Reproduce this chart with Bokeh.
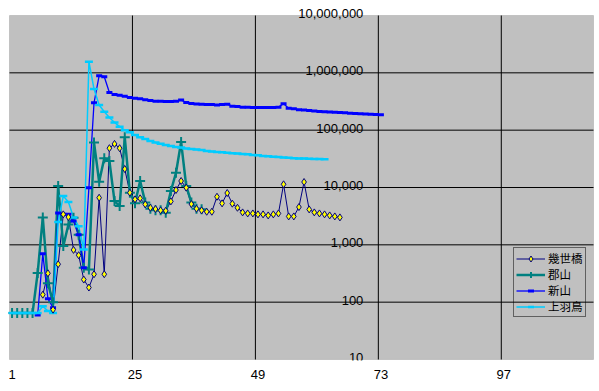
from bokeh.plotting import figure
from bokeh.models import FixedTicker, Legend, LegendItem, Label, Range1d, BoxAnnotation
from bokeh.embed import file_html
from bokeh.resources import INLINE

# ---- data (category index -> value) ----
series_names = ["幾世橋", "郡山", "新山", "上羽鳥"]

kiyohashi_start = 7
kiyohashi = [135, 319, 74, 459, 3400, 3050, 816, 659, 248, 180, 307, 6630, 307,
             48500, 57600, 48500, 21000, 8110, 6210, 6470, 5080, 4430, 4210, 3990, 3920,
             5730, 9040, 12980, 9930, 5140, 4260,
             3990, 3780, 3780, 6900, 5290, 8010, 5220, 4430, 3680, 3530, 3530, 3400, 3400,
             3260, 3400, 3530, 11370, 3130, 3130, 4560, 12470, 4150, 3680, 3530, 3400,
             3260, 3130, 3010]

koriyama_start = 1
koriyama = [65, 65, 65, 65, 65, 324, 3000, 213, 100, 10600, 950, 2270, 2960, 1500, 400,
            370, 60800, 12600, 32400, 29000, 5800, 4750, 75000, 8100, 5300, 13000, 5500,
            4250, 4000, 4000, 3630, 8690, 18100, 62000, 10600, 5500, 4250, 4170]

niiyama_start = 6
niiyama = [60, 700, 115, 80, 3600, 3400, 3400, 2600, 1500, 400, 9900, 300000, 891000,
           857000,
           455000, 420000, 405000, 390000, 370000, 360000, 352000, 340000, 330000, 320000,
           318000, 316000, 315000, 318000, 335000, 305000, 292000, 285000, 283000, 281000,
           279000, 276000, 280000, 284000, 262000, 258000, 252000, 250000, 249000, 249000,
           249000, 248000, 249000, 252000, 290000, 242000, 236000, 228000, 225000, 220000,
           215000, 212000, 210000, 207000, 205000, 203000, 201000, 197000, 195000, 193000,
           191000, 189000, 187000, 185000]

kamihatori_start = 1
kamihatori = [65, 65, 65, 65, 65, 65, 85, 70, 65, 2500, 7100, 5600, 3000, 2100, 830,
              1567000, 521000, 274000, 209000, 166000, 136000, 115000, 100000, 92000, 82000,
              75000, 70000, 65000, 61000, 58000, 55000, 53000, 51000, 49700, 48000, 47000,
              46000, 45000, 43500, 42500, 41500, 41000, 40500, 39500, 39000, 38500, 38000,
              37000, 36500, 35600, 35000, 34500, 34100, 33500, 33000, 32500, 32200, 32000,
              31800, 31500, 31500, 31000]

n_categories = 114
x_tick_labels = [1, 25, 49, 73, 97]
y_tick_values = [10, 100, 1000, 10000, 100000, 1000000, 10000000]
y_tick_labels = ["10", "100", "1,000", "10,000", "100,000", "1,000,000", "10,000,000"]
y_axis_cross = 73

FONT = "Liberation Sans"

x_lo, x_hi = 0.5, n_categories + 0.5
y_lo, y_hi = y_tick_values[0], y_tick_values[-1]
# small padding around the plot area so its border and the top label are not clipped
cat_px = 5.123
dec_px = 57.33
x_pad_l, x_pad_r = 1 / cat_px, 1 / cat_px
y_pad_lo, y_pad_hi = 10 ** (-1 / dec_px), 10 ** (8 / dec_px)

p = figure(width=599, height=391, output_backend="svg", toolbar_location=None,
           x_range=Range1d(x_lo - x_pad_l, x_hi + x_pad_r),
           y_range=Range1d(y_lo * y_pad_lo, y_hi * y_pad_hi),
           y_axis_type="log", y_axis_location=None,
           min_border_left=8, min_border_right=5, min_border_top=7, min_border_bottom=31)

p.background_fill_color = "white"
p.border_fill_color = "white"
p.outline_line_color = None
p.xgrid.visible = False
p.ygrid.visible = False

# plot area
p.add_layout(BoxAnnotation(left=x_lo, right=x_hi, bottom=y_lo, top=y_hi,
                           fill_color="#C0C0C0", fill_alpha=1,
                           line_color="#808080", line_width=1, level="underlay"))

# grid lines limited to plot area
vx = [t - 0.5 for t in x_tick_labels[1:]]
p.segment(x0=vx, y0=[y_lo] * len(vx), x1=vx, y1=[y_hi] * len(vx),
          line_color="black", line_width=1)
hy = y_tick_values[1:-1]
p.segment(x0=[x_lo] * len(hy), y0=hy, x1=[x_hi] * len(hy), y1=hy,
          line_color="black", line_width=1)

# x axis labels
p.xaxis.ticker = FixedTicker(ticks=x_tick_labels)
p.xaxis.axis_line_color = None
p.xaxis.major_tick_line_color = None
p.xaxis.minor_tick_line_color = None
p.xaxis.major_tick_out = 0
p.xaxis.major_label_standoff = 9
p.xaxis.major_label_text_font = FONT
p.xaxis.major_label_text_font_size = "13px"
p.xaxis.major_label_text_color = "black"

# y labels at the crossing axis
for yv, yl in zip(y_tick_values, y_tick_labels):
    p.add_layout(Label(x=y_axis_cross - 0.5, y=yv, text=yl, x_offset=-15, y_offset=2,
                       text_align="right", text_baseline="middle",
                       text_font=FONT, text_font_size="13px", text_color="black"))

def xs(start, vals):
    return list(range(start, start + len(vals)))

# lines
l_k = p.line(xs(kiyohashi_start, kiyohashi), kiyohashi, line_color="#000080", line_width=1)
l_g = p.line(xs(koriyama_start, koriyama), koriyama, line_color="#008080", line_width=2.5)
l_n = p.line(xs(niiyama_start, niiyama), niiyama, line_color="#0000FF", line_width=1.3)
l_h = p.line(xs(kamihatori_start, kamihatori), kamihatori, line_color="#00CCFF", line_width=1.5)

# markers
m_g = p.scatter(xs(koriyama_start, koriyama), koriyama, marker="cross", size=10,
                line_color="#008080", line_width=2)
m_n = p.scatter(xs(niiyama_start, niiyama), niiyama, marker="dash", size=6,
                line_color="#0000FF", line_width=3)
m_h = p.scatter(xs(kamihatori_start, kamihatori), kamihatori, marker="dash", size=8,
                line_color="#00CCFF", line_width=2.5)
m_k = p.scatter(xs(kiyohashi_start, kiyohashi), kiyohashi, marker="diamond", size=7,
                fill_color="#FFFF00", line_color="#000080", line_width=1)

legend = Legend(items=[
    LegendItem(label=series_names[0], renderers=[l_k, m_k]),
    LegendItem(label=series_names[1], renderers=[l_g, m_g]),
    LegendItem(label=series_names[2], renderers=[l_n, m_n]),
    LegendItem(label=series_names[3], renderers=[l_h, m_h]),
], location=(505, 43))
legend.border_line_color = "black"
legend.border_line_width = 1
legend.background_fill_alpha = 0
legend.label_text_font = "Liberation Sans, Noto Sans CJK JP"
legend.label_text_font_size = "11.5px"
legend.label_text_line_height = 1.0
legend.label_text_color = "black"
legend.glyph_width = 29
legend.glyph_height = 15
legend.label_height = 15
legend.label_standoff = 3
legend.spacing = 0
legend.padding = 2
legend.margin = 0
p.add_layout(legend, "center")

open("out.html", "w").write(file_html(p, INLINE))
